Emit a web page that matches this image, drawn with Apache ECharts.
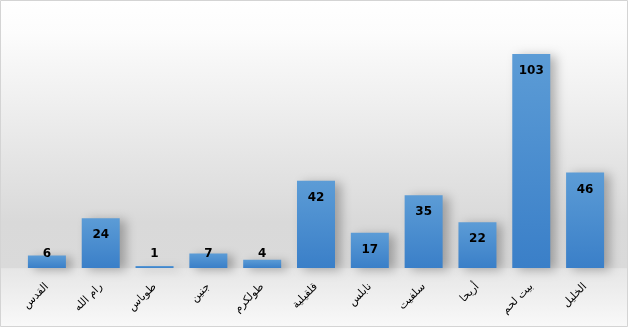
<!DOCTYPE html>
<html>
<head>
<meta charset="utf-8">
<script src="https://cdn.jsdelivr.net/npm/echarts@6/dist/echarts.min.js"></script>
<style>
html,body{margin:0;padding:0;background:#fff;}
#c{width:628px;height:327px;}
</style>
</head>
<body>
<div id="c"></div>
<script>
var categories = ["القدس", "رام الله", "طوباس", "جنين", "طولكرم", "قلقيلية", "نابلس", "سلفيت", "أريحا", "بيت لحم", "الخليل"];
var values = [6, 24, 1, 7, 4, 42, 17, 35, 22, 103, 46];

var chart = echarts.init(document.getElementById('c'), null, {renderer: 'canvas'});

var data = values.map(function (v) {
  var item = { value: v };
  if (v < 10) {
    item.label = { position: 'insideBottom', distance: 8 };
  }
  return item;
});

chart.setOption({
  animation: false,
  backgroundColor: {
    type: 'linear', x: 0, y: 0, x2: 0, y2: 1,
    colorStops: [
      { offset: 0, color: '#ffffff' },
      { offset: 0.1, color: '#fcfcfc' },
      { offset: 0.68, color: '#d9d9d9' },
      { offset: 0.818, color: '#dadada' },
      { offset: 0.822, color: '#e6e6e6' },
      { offset: 1, color: '#f9f9f9' }
    ]
  },
  graphic: [{
    type: 'rect',
    shape: { x: 0.5, y: 0.5, width: 627, height: 326 },
    style: { fill: 'none', stroke: '#d4d4d4', lineWidth: 1 },
    z: 100
  }],
  grid: { left: 20, right: 16, top: 39.5, bottom: 59, containLabel: false },
  xAxis: {
    type: 'category',
    data: categories,
    axisLine: { show: false },
    axisTick: { show: false },
    axisLabel: {
      rotate: 45,
      margin: 17,
      fontFamily: 'DejaVu Sans',
      fontSize: 11,
      color: '#000',
      interval: 0
    }
  },
  yAxis: {
    type: 'value',
    min: 0,
    max: 110,
    show: false,
    splitLine: { show: false }
  },
  series: [{
    type: 'bar',
    data: data,
    barWidth: 38,
    itemStyle: {
      color: {
        type: 'linear', x: 0, y: 0, x2: 0, y2: 1,
        colorStops: [
          { offset: 0, color: '#5c9cd6' },
          { offset: 1, color: '#3a7fc8' }
        ]
      },
      shadowBlur: 10,
      shadowOffsetX: 6,
      shadowOffsetY: 2,
      shadowColor: 'rgba(0,0,0,0.28)'
    },
    label: {
      show: true,
      position: 'insideTop',
      distance: 11,
      fontFamily: 'DejaVu Sans',
      fontWeight: 'bold',
      fontSize: 12,
      color: '#000'
    }
  }]
});
</script>
</body>
</html>
